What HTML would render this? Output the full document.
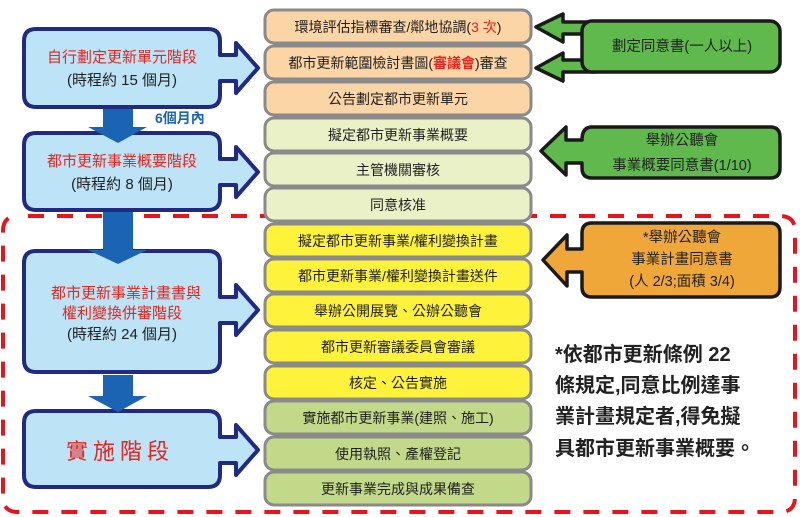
<!DOCTYPE html>
<html><head><meta charset="utf-8"><style>
html,body{margin:0;padding:0;background:#fff;}
svg{display:block;}
text{font-family:"Liberation Sans","Noto Sans CJK TC",sans-serif;}
</style></head><body>
<svg width="800" height="517" viewBox="0 0 800 517" xmlns="http://www.w3.org/2000/svg">
<!-- red dashed region -->
<path d="M 28 216 L 780 216 Q 795 216 795 231 L 795 497 Q 795 512 780 512 L 18 512 Q 3 512 3 497 L 3 231 Q 3 216 18 216" fill="none" stroke="#e8141c" stroke-width="4" stroke-dasharray="16,13"/>

<!-- left stage boxes with arrows -->
<g fill="#bde3f7" stroke="#1f2a80" stroke-width="4" stroke-linejoin="round">
<path d="M36 29 H208 Q220 29 220 41 V55 H236 V43 L258 68 L236 93 V81 H220 V95 Q220 107 208 107 H36 Q24 107 24 95 V41 Q24 29 36 29 Z"/>
<path d="M36 133 H208 Q220 133 220 145 V159 H236 V147 L258 172 L236 197 V185 H220 V198 Q220 210 208 210 H36 Q24 210 24 198 V145 Q24 133 36 133 Z"/>
<path d="M36 251 H208 Q220 251 220 263 V297 H236 V285 L258 310 L236 335 V323 H220 V360 Q220 372 208 372 H36 Q24 372 24 360 V263 Q24 251 36 251 Z"/>
<path d="M36 411 H208 Q220 411 220 423 V437 H236 V425 L258 450 L236 475 V463 H220 V475 Q220 487 208 487 H36 Q24 487 24 475 V423 Q24 411 36 411 Z"/>
</g>
<!-- down arrows (on top) -->
<g fill="#1b63b3">
<path d="M103 109 H133 V127 H147 L118 143 L88 127 H103 Z"/>
<path d="M103 212 H133 V250 H147 L118 264 L88 250 H103 Z"/>
<path d="M103 375 H133 V396 H147 L118 412 L88 396 H103 Z"/>
</g>
<text x="155" y="123" font-size="14" font-weight="bold" fill="#1b63b3">6個月內</text>
<g font-size="15" text-anchor="middle">
<text x="122" y="62" fill="#e8241c">自行劃定更新單元階段</text>
<text x="122" y="85" fill="#222">(時程約 15 個月)</text>
<text x="122" y="166" fill="#e8241c">都市更新事業概要階段</text>
<text x="122" y="189" fill="#222">(時程約 8 個月)</text>
<text x="126" y="298" fill="#e8241c">都市更新事業計畫書與</text>
<text x="122" y="318" fill="#e8241c">權利變換併審階段</text>
<text x="122" y="339" fill="#222">(時程約 24 個月)</text>
<text x="120" y="459" fill="#e8241c" font-size="22" letter-spacing="5">實施階段</text>
</g>

<!-- step boxes -->
<g stroke="#8a8a8a" stroke-width="3">
<rect x="265" y="10" width="266" height="33" rx="9" fill="#fbd5a5"/>
<rect x="265" y="46" width="266" height="33" rx="9" fill="#fbd5a5"/>
<rect x="265" y="82" width="266" height="33" rx="9" fill="#fbd5a5"/>
<rect x="265" y="118" width="266" height="33" rx="9" fill="#ebf1c6"/>
<rect x="265" y="153" width="266" height="33" rx="9" fill="#ebf1c6"/>
<rect x="265" y="188" width="266" height="33" rx="9" fill="#ebf1c6"/>
<rect x="265" y="224" width="266" height="33" rx="9" fill="#fff23a"/>
<rect x="265" y="259" width="266" height="33" rx="9" fill="#fff23a"/>
<rect x="265" y="294" width="266" height="33" rx="9" fill="#fff23a"/>
<rect x="265" y="330" width="266" height="33" rx="9" fill="#fff23a"/>
<rect x="265" y="366" width="266" height="33" rx="9" fill="#fff23a"/>
<rect x="265" y="401" width="266" height="33" rx="9" fill="#c3d98a"/>
<rect x="265" y="437" width="266" height="33" rx="9" fill="#c3d98a"/>
<rect x="265" y="472" width="266" height="33" rx="9" fill="#c3d98a"/>
</g>
<g font-size="14" text-anchor="middle" fill="#222">
<text x="398" y="32">環境評估指標審查/鄰地協調(<tspan fill="#e8241c">3 次</tspan>)</text>
<text x="398" y="68">都市更新範圍檢討書圖(<tspan fill="#e8241c" font-weight="bold">審議會</tspan>)審查</text>
<text x="398" y="104">公告劃定都市更新單元</text>
<text x="398" y="140">擬定都市更新事業概要</text>
<text x="398" y="175">主管機關審核</text>
<text x="398" y="210">同意核准</text>
<text x="398" y="246">擬定都市更新事業/權利變換計畫</text>
<text x="398" y="281">都市更新事業/權利變換計畫送件</text>
<text x="398" y="316">舉辦公開展覽、公辦公聽會</text>
<text x="398" y="352">都市更新審議委員會審議</text>
<text x="398" y="388">核定、公告實施</text>
<text x="398" y="423">實施都市更新事業(建照、施工)</text>
<text x="398" y="459">使用執照、產權登記</text>
<text x="398" y="494">更新事業完成與成果備查</text>
</g>

<!-- callouts -->
<g stroke="#1a1a1a" stroke-width="3.5" stroke-linejoin="round" fill="#5fb94d">
<path d="M595 22 H563 V14 L536 27 L563 42 V34 H595 Z"/>
<path d="M595 60 H563 V53 L536 68 L563 81 V72 H595 Z"/>
<rect x="582" y="21" width="198" height="51" rx="10"/>
<path d="M592 127 H770 Q780 127 780 137 V168 Q780 178 770 178 H592 Q582 178 582 168 V163 H566 V175 L541 151 L566 127 V140 H582 Q582 127 592 127 Z"/>
<path d="M592 223 H770 Q780 223 780 233 V287 Q780 297 770 297 H592 Q582 297 582 287 V272 H567 V286 L543 260 L567 235 V249 H582 V233 Q582 223 592 223 Z" fill="#f0a73a"/>
</g>
<g font-size="14.5" text-anchor="middle" fill="#222">
<text x="682" y="51">劃定同意書(一人以上)</text>
<text x="682" y="145">舉辦公聽會</text>
<text x="682" y="170">事業概要同意書(1/10)</text>
<text x="682" y="242">*舉辦公聽會</text>
<text x="682" y="264">事業計畫同意書</text>
<text x="682" y="286">(人 2/3;面積 3/4)</text>
</g>

<g font-size="20" fill="#222" font-weight="bold">
<text x="555" y="361">*依都市更新條例 22</text>
<text x="555" y="392">條規定,同意比例達事</text>
<text x="555" y="423">業計畫規定者,得免擬</text>
<text x="555" y="455">具都市更新事業概要。</text>
</g>
</svg>
</body></html>
